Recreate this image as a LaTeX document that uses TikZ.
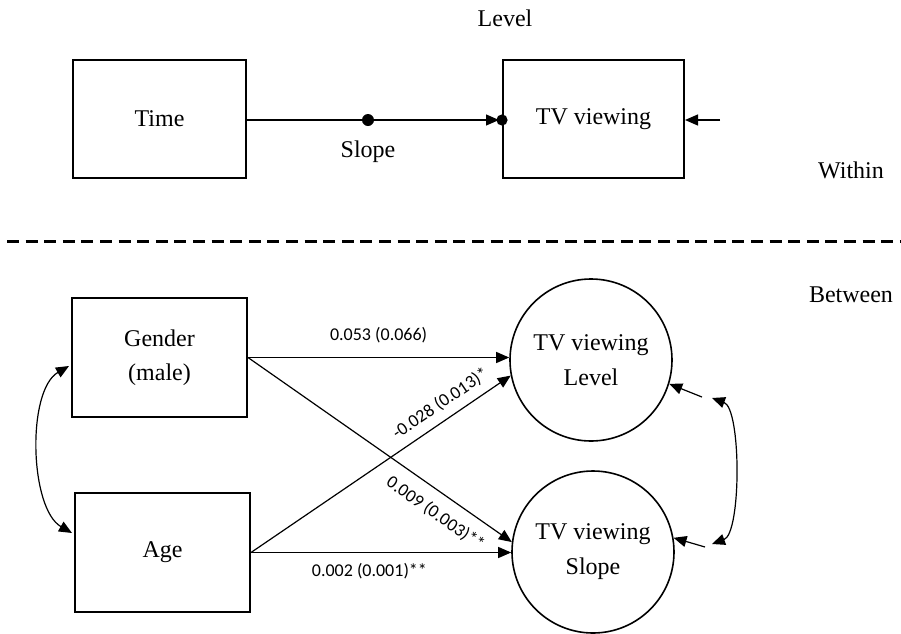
\documentclass[tikz,border=0pt]{standalone}
\usepackage{fontspec}
\setmainfont{Liberation Serif}
\newfontfamily\lblfont{Carlito}
\usetikzlibrary{arrows.meta}
\tikzset{
  box/.style={draw, line width=1pt, minimum width=87pt, minimum height=59pt, align=center, inner sep=0pt, font=\fontsize{12}{17}\selectfont},
  lat/.style={draw, circle, line width=0.8pt, minimum size=81pt, align=center, inner sep=0pt, font=\fontsize{12}{17.5}\selectfont},
  path/.style={line width=0.6pt, -{Triangle[length=6.5pt,width=5.5pt]}},
  cov/.style={line width=0.6pt, {Triangle[length=6.5pt,width=5.5pt]}-{Triangle[length=6.5pt,width=5.5pt]}},
  coef/.style={font=\lblfont\fontsize{9}{10}\selectfont, inner sep=1pt},
  txt/.style={font=\fontsize{12}{14}\selectfont, inner sep=0pt},
}
\begin{document}
\begin{tikzpicture}[x=0.5pt,y=-0.5pt]
\useasboundingbox (0,0) rectangle (901,633);
% within
\node[box, minimum width=86.5pt] (time) at (159.5,119) {Time};
\node[box, minimum width=90.5pt] (tv) at (593.5,119) {TV viewing};
\node[txt] (lev) at (505,18) {Level};
\node[txt] (within) at (851,170) {Within};
\node[txt] (between) at (851,295) {Between};
\coordinate (mid) at (368,120);
\node[txt] (slopelbl) at (368,152) {Slope};
\draw[line width=0.6pt] (time.east |- mid) -- (mid);
\draw[path] (mid) -- ([xshift=-1.5pt]tv.west |- mid);
\fill (mid) circle[radius=3pt];
\fill (tv.west |- mid) circle[radius=2.8pt];
\coordinate (e1) at (720,120);
\draw[path] (e1) -- (tv.east |- e1);
% dashed separator
\coordinate (d1) at (7,241);
\coordinate (d2) at (901,241);
\draw[line width=1.5pt, dash pattern=on 6pt off 3.3pt] (d1) -- (d2);
% between
\node[box, minimum width=87.5pt, minimum height=59.5pt] (gender) at (159.5,357.5) {Gender\\(male)};
\node[box, minimum width=87.5pt, minimum height=59.5pt] (age) at (162.5,552.5) {Age};
\node[lat] (level) at (591,360) {TV viewing\\Level};
\node[lat] (slope) at (593,552) {TV viewing\\Slope};
\draw[path] (gender.east) -- (level.west |- gender.east)
  node[coef, midway, above=6pt] {0.053 (0.066)};
\draw[path] (gender.east) -- (slope.173)
  node[coef, pos=0.755, sloped, below=5pt] {0.009 (0.003)**};
\draw[path] (age.east) -- (level.191)
  node[coef, pos=0.765, sloped, above=3pt] {-0.028 (0.013)*};
\draw[path] (age.east) -- (slope.west |- age.east)
  node[coef, pos=0.455, below=4pt] {0.002 (0.001)**};
% residuals
\coordinate (e2) at (702,397);
\coordinate (e3) at (705,547);
\draw[path] (e2) -- (level.343);
\draw[path] (e3) -- (slope.10);
% covariances
\coordinate (c1) at (712,398);
\coordinate (c2) at (712,544);
\draw[cov] (c1) to[out=-20, in=20, looseness=0.55] (c2);
\draw[cov] ([xshift=-1pt]gender.west |- 0,366) to[out=210, in=150, looseness=0.75] ([xshift=-1pt]age.west |- 0,533);
\end{tikzpicture}
\end{document}
